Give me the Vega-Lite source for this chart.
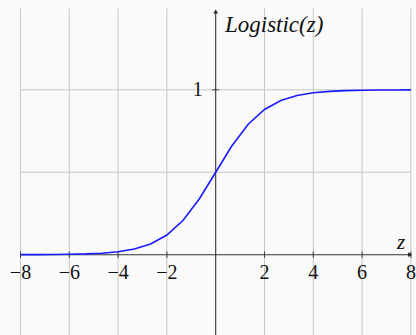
{
  "$schema": "https://vega.github.io/schema/vega-lite/v6.json",
  "width": 416,
  "height": 335,
  "padding": 0,
  "autosize": {"type": "none"},
  "background": "#fafafa",
  "config": {"view": {"stroke": null}},
  "datasets": {
    "curve": [
      {"z": -8.0, "p": 0.000335},
      {"z": -7.3333, "p": 0.000653},
      {"z": -6.6667, "p": 0.001272},
      {"z": -6.0, "p": 0.002473},
      {"z": -5.3333, "p": 0.004805},
      {"z": -4.6667, "p": 0.009316},
      {"z": -4.0, "p": 0.017986},
      {"z": -3.3333, "p": 0.034445},
      {"z": -2.6667, "p": 0.064969},
      {"z": -2.0, "p": 0.119203},
      {"z": -1.3333, "p": 0.208609},
      {"z": -0.6667, "p": 0.339244},
      {"z": 0.0, "p": 0.5},
      {"z": 0.6667, "p": 0.660756},
      {"z": 1.3333, "p": 0.791391},
      {"z": 2.0, "p": 0.880797},
      {"z": 2.6667, "p": 0.935031},
      {"z": 3.3333, "p": 0.965555},
      {"z": 4.0, "p": 0.982014},
      {"z": 4.6667, "p": 0.990684},
      {"z": 5.3333, "p": 0.995195},
      {"z": 6.0, "p": 0.997527},
      {"z": 6.6667, "p": 0.998728},
      {"z": 7.3333, "p": 0.999347},
      {"z": 8.0, "p": 0.999665}
    ],
    "xticks": [
      {"z": -8, "label": "−8"},
      {"z": -6, "label": "−6"},
      {"z": -4, "label": "−4"},
      {"z": -2, "label": "−2"},
      {"z": 2, "label": "2"},
      {"z": 4, "label": "4"},
      {"z": 6, "label": "6"},
      {"z": 8, "label": "8"}
    ],
    "ygrid": [{"p": 0.5}, {"p": 1}]
  },
  "layer": [
    {
      "data": {"name": "xticks"},
      "mark": {"type": "rule", "color": "#c6c6c6", "strokeWidth": 1},
      "encoding": {
        "x": {"field": "z", "type": "quantitative", "scale": {"domain": [-8.84, 8.21], "nice": false, "zero": false}, "axis": null},
        "y": {"datum": -0.7, "type": "quantitative", "scale": {"domain": [-0.487, 1.545], "nice": false, "zero": false}, "axis": null},
        "y2": {"datum": 1.494}
      }
    },
    {
      "data": {"name": "ygrid"},
      "mark": {"type": "rule", "color": "#c6c6c6", "strokeWidth": 1},
      "encoding": {
        "y": {"field": "p", "type": "quantitative"},
        "x": {"datum": -8, "type": "quantitative"},
        "x2": {"datum": 8}
      }
    },
    {
      "data": {"name": "xticks"},
      "mark": {"type": "rule", "color": "#444444", "strokeWidth": 1},
      "encoding": {
        "x": {"field": "z", "type": "quantitative"},
        "y": {"datum": -0.02, "type": "quantitative"},
        "y2": {"datum": 0.02}
      }
    },
    {
      "data": {"values": [{"p": 1}]},
      "mark": {"type": "rule", "color": "#444444", "strokeWidth": 1},
      "encoding": {
        "y": {"field": "p", "type": "quantitative"},
        "x": {"datum": -0.14, "type": "quantitative"},
        "x2": {"datum": 0.14}
      }
    },
    {
      "data": {"values": [{"p": 0}]},
      "mark": {"type": "rule", "color": "#333333", "strokeWidth": 1.1},
      "encoding": {
        "y": {"field": "p", "type": "quantitative"},
        "x": {"datum": -8, "type": "quantitative"},
        "x2": {"datum": 8.0}
      }
    },
    {
      "data": {"values": [{"z": 0}]},
      "mark": {"type": "rule", "color": "#333333", "strokeWidth": 1.1},
      "encoding": {
        "x": {"field": "z", "type": "quantitative"},
        "y": {"datum": -0.7, "type": "quantitative"},
        "y2": {"datum": 1.47}
      }
    },
    {
      "data": {"values": [{"z": 7.97, "p": 0}]},
      "mark": {"type": "point", "shape": "triangle-right", "filled": true, "color": "#222222", "size": 22, "opacity": 1},
      "encoding": {
        "x": {"field": "z", "type": "quantitative"},
        "y": {"field": "p", "type": "quantitative"}
      }
    },
    {
      "data": {"values": [{"z": 0, "p": 1.475}]},
      "mark": {"type": "point", "shape": "triangle-up", "filled": true, "color": "#222222", "size": 22, "opacity": 1},
      "encoding": {
        "x": {"field": "z", "type": "quantitative"},
        "y": {"field": "p", "type": "quantitative"}
      }
    },
    {
      "data": {"name": "curve"},
      "mark": {"type": "line", "color": "#1a1aff", "strokeWidth": 1.6},
      "encoding": {
        "x": {"field": "z", "type": "quantitative"},
        "y": {"field": "p", "type": "quantitative"}
      }
    },
    {
      "data": {"name": "xticks"},
      "mark": {"type": "text", "font": "'Liberation Serif', 'DejaVu Serif', serif", "fontSize": 20, "color": "#111111", "align": "center", "baseline": "middle"},
      "encoding": {
        "x": {"field": "z", "type": "quantitative"},
        "y": {"datum": -0.108, "type": "quantitative"},
        "text": {"field": "label"}
      }
    },
    {
      "data": {"values": [{"p": 1, "label": "1"}]},
      "mark": {"type": "text", "font": "'Liberation Serif', 'DejaVu Serif', serif", "fontSize": 20, "color": "#111111", "align": "center", "baseline": "middle"},
      "encoding": {
        "x": {"datum": -0.74, "type": "quantitative"},
        "y": {"field": "p", "type": "quantitative"},
        "text": {"field": "label"}
      }
    },
    {
      "data": {"values": [{"z": 0.38, "p": 1.393, "label": "Logistic(z)"}]},
      "mark": {"type": "text", "font": "'Liberation Serif', 'DejaVu Serif', serif", "fontStyle": "italic", "fontSize": 23, "color": "#111111", "align": "left", "baseline": "middle"},
      "encoding": {
        "x": {"field": "z", "type": "quantitative"},
        "y": {"field": "p", "type": "quantitative"},
        "text": {"field": "label"}
      }
    },
    {
      "data": {"values": [{"z": 7.6, "p": 0.072, "label": "z"}]},
      "mark": {"type": "text", "font": "'Liberation Serif', 'DejaVu Serif', serif", "fontStyle": "italic", "fontSize": 21, "color": "#111111", "align": "center", "baseline": "middle"},
      "encoding": {
        "x": {"field": "z", "type": "quantitative"},
        "y": {"field": "p", "type": "quantitative"},
        "text": {"field": "label"}
      }
    }
  ]
}
